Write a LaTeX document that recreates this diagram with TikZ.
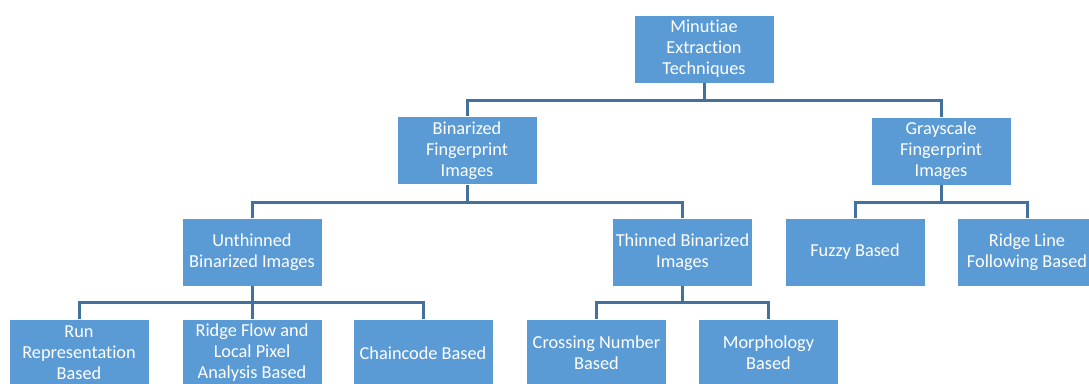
\documentclass[tikz,border=0pt]{standalone}
\usepackage{fontspec}
\setmainfont[Ligatures=CommonOff]{Carlito}
\definecolor{boxblue}{HTML}{5B9BD5}
\definecolor{linkblue}{HTML}{41719C}
\begin{document}
\begin{tikzpicture}[x=1pt,y=-1pt,
  box/.style={draw=white, line width=0.8pt, fill=boxblue, text=white,
    minimum width=140pt, minimum height=68pt, inner sep=1pt, align=center,
    font=\fontsize{18.3}{21}\selectfont},
  conn/.style={draw=linkblue, line width=3pt}]
\useasboundingbox (0,0) rectangle (1089,383);
\clip (0,0) rectangle (1089,383);

% level 1
\node[box] (root) at (704,49) {Minutiae\\Extraction\\Techniques};
% level 2
\node[box] (bin)  at (467,150.5) {Binarized\\Fingerprint\\Images};
\node[box] (gray) at (941,151) {Grayscale\\Fingerprint\\Images};
% level 3
\node[box] (unth)  at (252,252) {Unthinned\\Binarized Images};
\node[box] (thin)  at (682.5,252) {Thinned Binarized\\Images};
\node[box] (fuzzy) at (855,252) {Fuzzy Based};
\node[box] (rline) at (1027,252) {Ridge Line\\Following Based};
% level 4
\node[box] (run)   at (79,353) {Run\\Representation\\Based};
\node[box] (flow)  at (252,353) {Ridge Flow and\\Local Pixel\\Analysis Based};
\node[box] (chain) at (423,353) {Chaincode Based};
\node[box] (cross) at (596.5,353) {Crossing Number\\Based};
\node[box] (morph) at (768.5,353) {Morphology\\Based};

% bus points of the tree connectors
\coordinate (b0) at (704,100);
\coordinate (b1) at (467,202);
\coordinate (b2) at (941,202);
\coordinate (b3) at (252,302);
\coordinate (b4) at (682.5,302);

\draw[conn] (root.south) -- (b0);
\draw[conn] (bin.north) |- (b0) -| (gray.north);

\draw[conn] (bin.south) -- (b1);
\draw[conn] (unth.north) |- (b1) -| (thin.north);

\draw[conn] (gray.south) -- (b2);
\draw[conn] (fuzzy.north) |- (b2) -| (rline.north);

\draw[conn] (unth.south) -- (flow.north);
\draw[conn] (run.north) |- (b3) -| (chain.north);

\draw[conn] (thin.south) -- (b4);
\draw[conn] (cross.north) |- (b4) -| (morph.north);
\end{tikzpicture}
\end{document}
